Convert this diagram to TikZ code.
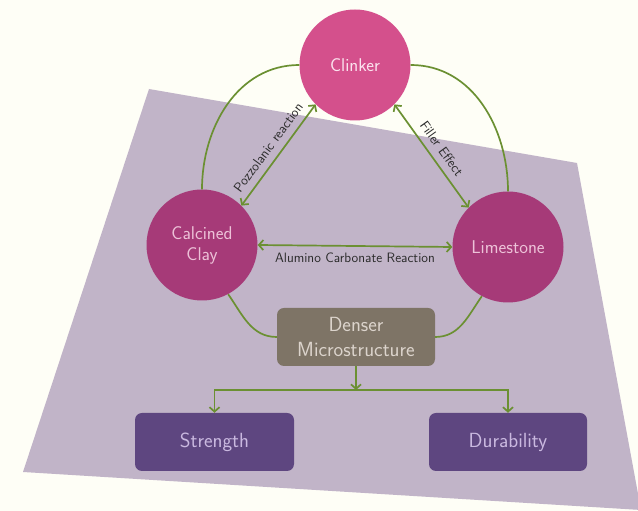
\documentclass[tikz,border=0pt]{standalone}
\usetikzlibrary{arrows.meta}
\renewcommand{\familydefault}{\sfdefault}
\definecolor{bgcream}{HTML}{FEFEF6}
\definecolor{polyc}{HTML}{C1B4C8}
\definecolor{clinkc}{HTML}{D4508C}
\definecolor{darkpink}{HTML}{A63A78}
\definecolor{greenl}{HTML}{6B9032}
\definecolor{denserc}{HTML}{7E7466}
\definecolor{densertxt}{HTML}{DCD4CC}
\definecolor{purpbox}{HTML}{5E4680}
\definecolor{purptxt}{HTML}{CAB9E0}
\definecolor{lbltxt}{HTML}{2A2A2A}
\definecolor{clinktxt}{HTML}{FBE3EE}
\definecolor{claytxt}{HTML}{EDC2D8}
\tikzset{
  circnode/.style={circle, inner sep=0pt, minimum size=111pt, align=center,
    font=\sffamily\fontsize{18.5}{21}\selectfont},
  rbox/.style={rectangle, rounded corners=7pt, minimum width=158pt, minimum height=58pt,
    align=center, inner sep=0pt},
  boxfont/.style={font=\sffamily\fontsize{20.5}{25}\selectfont},
  link/.style={draw=greenl, line width=1.7pt},
  dbl/.style={link, {Straight Barb[length=4.5pt,width=10pt]}-{Straight Barb[length=4.5pt,width=10pt]}},
  sgl/.style={link, -{Straight Barb[length=4.5pt,width=10pt]}},
  lbl/.style={text=lbltxt, font=\sffamily\fontsize{13.6}{16}\selectfont, inner sep=3pt},
}
\begin{document}
\begin{tikzpicture}[x=1pt,y=1pt]
\fill[bgcream] (0,0) rectangle (638,511);
\useasboundingbox (0,0) rectangle (638,511);
\begin{scope}
\clip (0,0) rectangle (638,511);
\fill[polyc] (149,422) -- (577,348) -- (641,1) -- (23,39) -- cycle;
\end{scope}

\node[rbox, boxfont, fill=denserc, text=densertxt] (denser) at (356,174) {Denser\\Microstructure};
\node[rbox, boxfont, fill=purpbox, text=purptxt, minimum width=159pt] (strength) at (214.5,69) {Strength};
\node[rbox, boxfont, fill=purpbox, text=purptxt] (durability) at (508,69) {Durability};

\node[circnode, fill=clinkc, text=clinktxt] (clinker) at (355,446) {Clinker};
\node[circnode, fill=darkpink, text=claytxt] (clay) at (202,266) {Calcined\\Clay};
\node[circnode, fill=darkpink, text=claytxt] (lime) at (508,264) {Limestone};

% cycle arcs
\draw[link] (clinker.west) to[out=180,in=90] (clay.north);
\draw[link] (clinker.east) to[out=0,in=90] (lime.north);
\draw[link] (clay.-62) to[out=-55,in=180] (denser.west);
\draw[link] (lime.-118) to[out=-125,in=0] (denser.east);

% reactions
\draw[dbl] (clay.45) -- node[lbl, midway, sloped, above, inner sep=7pt] {Pozzolanic reaction} (clinker.-135);
\draw[dbl] (clinker.-45) -- node[lbl, midway, sloped, above, inner sep=7pt] {Filler Effect} (lime.135);
\draw[dbl] (clay.east) -- node[lbl, midway, below, inner sep=6pt] {Alumino Carbonate Reaction} (lime.west);

% tree
\coordinate (j) at (356,121);
\draw[sgl] (denser.south) -- (j);
\draw[sgl] (j) -| (strength.north);
\draw[sgl] (j) -| (durability.north);
\end{tikzpicture}
\end{document}
